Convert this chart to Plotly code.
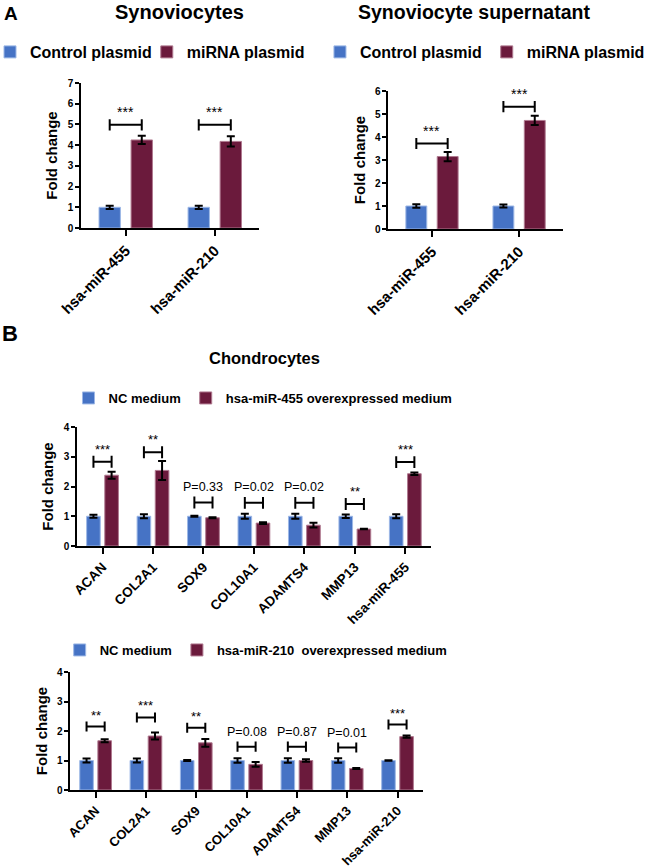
import plotly.graph_objects as go

BLUE = "#4673c5"
MAROON = "#6b1a3c"
BLUE_EDGE = "#9db8e6"
MAROON_EDGE = "#b07a90"
FONT = "Liberation Sans"

# ---------------- data ----------------
a_cats = ["hsa-miR-455", "hsa-miR-210"]
a1_ctrl = [1.0, 1.0]
a1_ctrl_err = [0.08, 0.08]
a1_mir = [4.25, 4.18]
a1_mir_err = [0.20, 0.25]
a1_br = [4.98, 4.98]
a1_sig = ["***", "***"]

a2_ctrl = [1.0, 1.0]
a2_ctrl_err = [0.08, 0.07]
a2_mir = [3.15, 4.72]
a2_mir_err = [0.20, 0.20]
a2_br = [3.72, 5.32]
a2_sig = ["***", "***"]

b1_cats = ["ACAN", "COL2A1", "SOX9", "COL10A1", "ADAMTS4", "MMP13", "hsa-miR-455"]
b1_nc = [1.0, 1.0, 1.0, 1.0, 1.0, 1.0, 1.0]
b1_nc_err = [0.05, 0.07, 0.02, 0.08, 0.08, 0.06, 0.07]
b1_oe = [2.38, 2.54, 0.95, 0.77, 0.70, 0.57, 2.43]
b1_oe_err = [0.12, 0.32, 0.02, 0.03, 0.08, 0.01, 0.04]
b1_br = [2.83, 3.15, 1.46, 1.45, 1.45, 1.41, 2.82]
b1_sig = ["***", "**", "P=0.33", "P=0.02", "P=0.02", "**", "***"]

b2_cats = ["ACAN", "COL2A1", "SOX9", "COL10A1", "ADAMTS4", "MMP13", "hsa-miR-210"]
b2_nc = [1.0, 1.0, 1.0, 1.0, 1.0, 1.0, 1.0]
b2_nc_err = [0.07, 0.07, 0.02, 0.08, 0.08, 0.08, 0.01]
b2_oe = [1.67, 1.83, 1.60, 0.87, 1.00, 0.73, 1.81]
b2_oe_err = [0.05, 0.12, 0.13, 0.08, 0.04, 0.02, 0.04]
b2_br = [2.15, 2.46, 2.11, 1.47, 1.47, 1.44, 2.22]
b2_sig = ["**", "***", "**", "P=0.08", "P=0.87", "P=0.01", "***"]

W, H = 650, 868


def px(x):
    return x / W


def py(y):
    return 1 - y / H


fig = go.Figure()

panels = [
    dict(ax="", cats=a_cats, s1=a1_ctrl, e1=a1_ctrl_err, s2=a1_mir, e2=a1_mir_err,
         br=a1_br, sig=a1_sig, n1="Control plasmid", n2="miRNA plasmid",
         leg="legend", width=0.24, off=0.18, tick=0.27, ymax=7,
         xd=[px(83), px(265)], yd=[py(228), py(83)], tickfont=15, sigfont=14),
    dict(ax="2", cats=a_cats, s1=a2_ctrl, e1=a2_ctrl_err, s2=a2_mir, e2=a2_mir_err,
         br=a2_br, sig=a2_sig, n1="Control plasmid", n2="miRNA plasmid",
         leg="legend2", width=0.24, off=0.18, tick=0.24, ymax=6,
         xd=[px(397), px(575)], yd=[py(229), py(91)], tickfont=15, sigfont=14),
    dict(ax="3", cats=b1_cats, s1=b1_nc, e1=b1_nc_err, s2=b1_oe, e2=b1_oe_err,
         br=b1_br, sig=b1_sig, n1="NC medium", n2="hsa-miR-455 overexpressed medium",
         leg="legend3", width=0.27, off=0.18, tick=0.2, ymax=4,
         xd=[px(79), px(440)], yd=[py(546), py(427)], tickfont=13.5, sigfont=13),
    dict(ax="4", cats=b2_cats, s1=b2_nc, e1=b2_nc_err, s2=b2_oe, e2=b2_oe_err,
         br=b2_br, sig=b2_sig, n1="NC medium", n2="hsa-miR-210  overexpressed medium",
         leg="legend4", width=0.27, off=0.18, tick=0.17, ymax=4,
         xd=[px(72), px(432)], yd=[py(790), py(672)], tickfont=13, sigfont=13),
]

annotations = []
for p in panels:
    n = len(p["cats"])
    idx = list(range(n))
    xa = "x" + p["ax"]
    ya = "y" + p["ax"]
    w = p["width"]
    for name, vals, errs, color, edge, sign in [
        (p["n1"], p["s1"], p["e1"], BLUE, BLUE_EDGE, -1),
        (p["n2"], p["s2"], p["e2"], MAROON, MAROON_EDGE, 1),
    ]:
        fig.add_trace(go.Bar(
            x=idx, y=vals, name=name, width=w,
            offset=sign * p["off"] - w / 2,
            marker=dict(color=color, line=dict(color=edge, width=1)),
            error_y=dict(type="data", array=errs, color="black", thickness=2, width=4),
            xaxis=xa, yaxis=ya, legend=p["leg"],
        ))
    # brackets
    bx, by = [], []
    d = p["tick"]
    o = p["off"]
    for i, yv in zip(idx, p["br"]):
        bx += [i - o, i - o, None, i - o, i + o, None, i + o, i + o, None]
        by += [yv - d, yv + d, None, yv, yv, None, yv - d, yv + d, None]
    fig.add_trace(go.Scatter(x=bx, y=by, mode="lines", line=dict(color="black", width=2),
                             showlegend=False, hoverinfo="skip", xaxis=xa, yaxis=ya))
    for i, yv, s in zip(idx, p["br"], p["sig"]):
        is_p = s.startswith("P")
        annotations.append(dict(
            x=i, y=yv + d, xref=xa, yref=ya, text=s, showarrow=False,
            yanchor="bottom", yshift=1 if is_p else -3,
            font=dict(family=FONT, size=12.5 if is_p else p["sigfont"], color="black"),
        ))
    axis_common = dict(showline=True, linecolor="black", linewidth=2, ticks="outside",
                       tickcolor="black", tickwidth=2, showgrid=False, zeroline=False,
                       automargin=False)
    fig.layout["xaxis" + p["ax"]] = dict(
        axis_common, domain=p["xd"], range=[-0.5, n - 0.5], tickvals=idx,
        ticktext=p["cats"], tickangle=-45, ticklen=6, anchor=ya,
        tickfont=dict(family=FONT, size=p["tickfont"], color="black", weight="bold"))
    fig.layout["yaxis" + p["ax"]] = dict(
        axis_common, domain=p["yd"], range=[0, p["ymax"]], dtick=1, ticklen=4, anchor=xa,
        tickfont=dict(family=FONT, size=10, color="black", weight="bold"),
        title=dict(text="<b>Fold change</b>", standoff=6,
                   font=dict(family=FONT, size=15, color="black")))

# titles and panel letters
for text, x, y, size, anchor in [
    ("<b>A</b>", 2, 13, 19, "left"),
    ("<b>Synoviocytes</b>", 183, 12, 20, "center"),
    ("<b>Synoviocyte supernatant</b>", 484, 12, 19.5, "center"),
    ("<b>B</b>", 0, 334, 22, "left"),
    ("<b>Chondrocytes</b>", 270, 358, 16.5, "center"),
]:
    annotations.append(dict(x=px(x), y=py(y), xref="paper", yref="paper", text=text,
                            showarrow=False, xanchor=anchor, yanchor="middle",
                            font=dict(family=FONT, size=size, color="black")))

leg_common = dict(orientation="h", xanchor="left", yanchor="middle", bgcolor="rgba(0,0,0,0)",
                  itemclick=False, itemdoubleclick=False, tracegroupgap=0)
fontA = dict(family=FONT, size=16, color="black", weight="bold")
fontB = dict(family=FONT, size=13, color="black", weight="bold")
fig.update_layout(
    legend=dict(leg_common, x=0, y=py(52), font=fontA, indentation=-10),
    legend2=dict(leg_common, x=px(327), y=py(52), font=fontA),
    legend3=dict(leg_common, x=px(70), y=py(398), font=fontB),
    legend4=dict(leg_common, x=px(61), y=py(650), font=fontB),
)

fig.update_layout(
    width=W, height=H, margin=dict(l=0, r=0, t=0, b=0),
    paper_bgcolor="white", plot_bgcolor="white",
    barmode="group", annotations=annotations, showlegend=True,
    font=dict(family=FONT, color="black"),
)

fig.write_html("out.html", config={"displayModeBar": False},
               post_script="document.body.style.margin='0';document.body.style.padding='0';")
